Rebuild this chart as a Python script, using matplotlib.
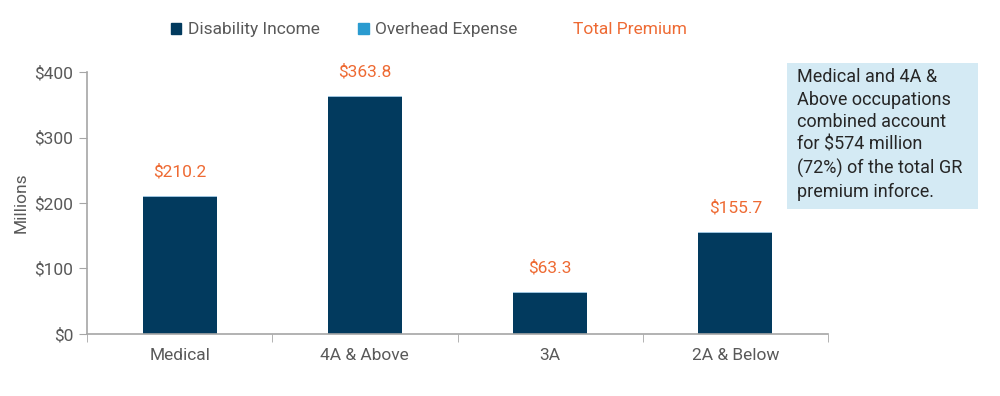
import numpy as np
import matplotlib
matplotlib.use("Agg")
import matplotlib.pyplot as plt
from matplotlib.lines import Line2D
from matplotlib.patches import Patch, Rectangle

plt.rcParams['font.family'] = ['Roboto', 'DejaVu Sans']

# data
categories = ['Medical', '4A & Above', '3A', '2A & Below']
disability_income = [208.4, 362.0, 61.8, 154.0]
overhead_expense = [1.8, 1.8, 1.5, 1.7]
total_premium = [210.2, 363.8, 63.3, 155.7]

dark_blue = '#023A5E'
light_blue = '#2A9BD0'
orange = '#EE6A33'
grey_text = '#595959'
axis_grey = '#A6A6A6'

fig = plt.figure(figsize=(10, 3.96), dpi=100)
ax = fig.add_axes([0.087, 0.157, 0.741, 0.661])

x = np.arange(len(categories))
ax.bar(x, disability_income, width=0.4, color=dark_blue)
ax.bar(x, overhead_expense, width=0.4, bottom=disability_income, color='#9CC3DE')

for xi, tot in zip(x, total_premium):
    ax.annotate(f'${tot:.1f}', (xi, tot), xytext=(0, 12), textcoords='offset points',
                ha='center', va='bottom', color=orange, fontsize=12.5)

ax.set_xlim(-0.5, 3.5)
ax.set_ylim(0, 400)
ax.set_yticks([0, 100, 200, 300, 400])
ax.set_yticklabels([f'${v}' for v in [0, 100, 200, 300, 400]])
ax.set_xticks(x)
ax.set_xticklabels(categories)
ax.set_xticks(np.arange(-0.5, 4, 1), minor=True)
ax.tick_params(axis='x', which='major', length=0, pad=10, labelsize=12.5, labelcolor=grey_text)
ax.tick_params(axis='x', which='minor', length=6, color=axis_grey, direction='out')
ax.tick_params(axis='y', length=6, color=axis_grey, labelsize=12.5, labelcolor=grey_text, pad=4)
ax.set_ylabel('Millions', color=grey_text, fontsize=12.5, labelpad=4)

for s in ['top', 'right']:
    ax.spines[s].set_visible(False)
for s in ['left', 'bottom']:
    ax.spines[s].set_color(axis_grey)
    ax.spines[s].set_linewidth(1.2)

handles = [Patch(color=dark_blue), Patch(color=light_blue), Line2D([], [], color='none')]
labels = ['Disability Income', 'Overhead Expense', 'Total Premium']
leg = fig.legend(handles, labels, loc='center', bbox_to_anchor=(0.429, 0.925), ncol=3,
                 frameon=False, fontsize=12.5, handlelength=0.6, handleheight=0.6,
                 handletextpad=0.4, columnspacing=2.2)
for t in leg.get_texts():
    t.set_color(grey_text)
leg.get_texts()[2].set_color(orange)

# note box
fig.patches.append(Rectangle((0.787, 1 - 209 / 396), 0.191, 146 / 396,
                             transform=fig.transFigure, facecolor='#D4EAF4',
                             edgecolor='none', zorder=0))
fig.text(0.797, 1 - 68 / 396, 'Medical and 4A &\nAbove occupations\ncombined account\nfor $574 million\n(72%) of the total GR\npremium inforce.',
         ha='left', va='top', fontsize=13, color='#262626', linespacing=1.33)

fig.savefig('out.png', dpi=100)
